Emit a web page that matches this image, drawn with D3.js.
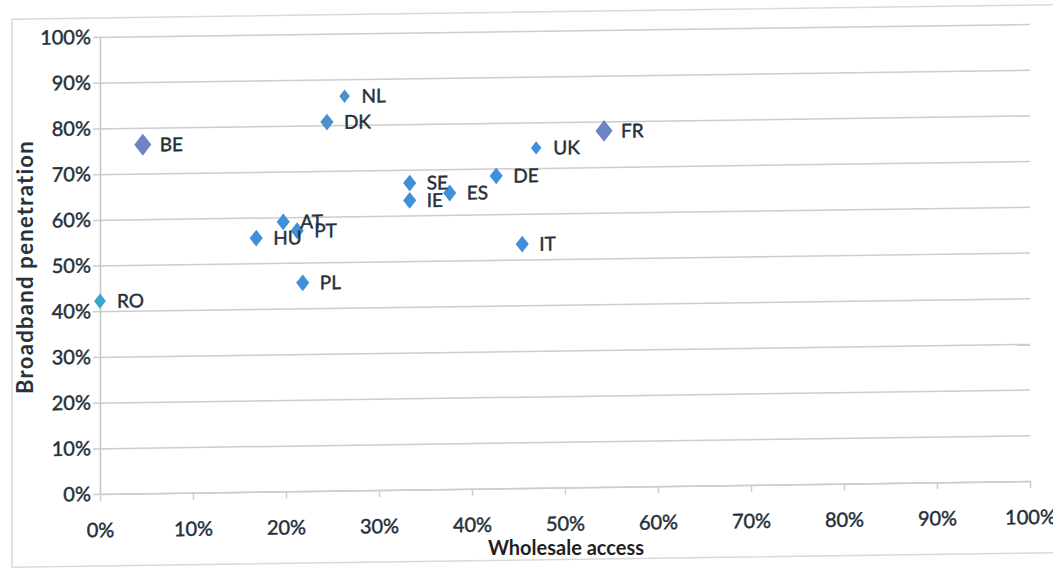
<!DOCTYPE html>
<html>
<head>
<meta charset="utf-8">
<script src="https://cdn.jsdelivr.net/npm/d3@7"></script>
<style>
  html, body { margin: 0; padding: 0; background: #ffffff; }
  svg { display: block; }
  text { font-family: Lato, "Open Sans", sans-serif; }
</style>
</head>
<body>
<svg id="chart" width="1053" height="571"></svg>
<script>
// ---- data ----
const countries   = ["BE", "NL", "DK", "FR", "UK", "DE", "SE", "IE", "ES", "AT", "PT", "HU", "PL", "IT", "RO"];
const wholesale   = [0.046, 0.263, 0.244, 0.542, 0.469, 0.426, 0.333, 0.333, 0.376, 0.197, 0.212, 0.168, 0.218, 0.454, 0.0];
const penetration = [0.763, 0.863, 0.807, 0.779, 0.744, 0.684, 0.671, 0.633, 0.648, 0.590, 0.570, 0.555, 0.456, 0.534, 0.422];
const xTickValues = [0, 0.1, 0.2, 0.3, 0.4, 0.5, 0.6, 0.7, 0.8, 0.9, 1.0];
const yTickValues = [0, 0.1, 0.2, 0.3, 0.4, 0.5, 0.6, 0.7, 0.8, 0.9, 1.0];
const xTitle = "Wholesale access";
const yTitle = "Broadband penetration";

// ---- styles ----
const markColor = { BE: "#6b84c4", FR: "#6b84c4", NL: "#4b8fcc", DK: "#4b8fcc", RO: "#3aa5cf" };
const defaultColor = "#3f8fdb";
const markScale = { BE: 1.3, FR: 1.3, NL: 0.8, UK: 0.8, RO: 0.9 };
const textColor = "#24303b";

const svg = d3.select("#chart");
const mLeft = 100, mRight = 1030, mTop = 37, mBottom = 494;

const x = d3.scaleLinear().domain([0, 1]).range([mLeft, mRight]);
const y = d3.scaleLinear().domain([0, 1]).range([mBottom, mTop]);

// scanned page is slightly skewed
const g = svg.append("g")
  .attr("transform", `translate(${mLeft},0) skewY(-0.8) translate(${-mLeft},0)`);

// chart border
g.append("rect")
  .attr("x", 12).attr("y", 18).attr("width", 1100).attr("height", 548)
  .attr("fill", "none").attr("stroke", "#dadada").attr("stroke-width", 1.5);

function heavy(sel, size) {
  sel.attr("fill", textColor)
     .attr("stroke", textColor).attr("stroke-width", 0.45)
     .style("font-size", size + "px");
}

// y axis with gridlines
const yAxis = g.append("g")
  .attr("transform", `translate(${mLeft},0)`)
  .call(d3.axisLeft(y).tickValues(yTickValues).tickFormat(d3.format(".0%"))
        .tickSizeInner(-(mRight - mLeft)).tickSizeOuter(0).tickPadding(9));
yAxis.select(".domain").attr("stroke", "#c4c4c4").attr("stroke-width", 1.5);
yAxis.selectAll(".tick line").attr("x1", -7).attr("stroke", "#cdcdcd").attr("stroke-width", 1.5);
yAxis.selectAll(".tick text").call(heavy, 20);

// x axis
const xAxis = g.append("g")
  .attr("transform", `translate(0,${mBottom})`)
  .call(d3.axisBottom(x).tickValues(xTickValues).tickFormat(d3.format(".0%"))
        .tickSizeInner(7).tickSizeOuter(0).tickPadding(22));
xAxis.select(".domain").attr("stroke", "#cdcdcd").attr("stroke-width", 1.5);
xAxis.selectAll(".tick line").attr("stroke", "#cdcdcd").attr("stroke-width", 1.5);
xAxis.selectAll(".tick text").call(heavy, 20);

// diamond symbol (a bit wider than d3's default diamond)
const wideDiamond = {
  draw(ctx, size) {
    const h = Math.sqrt(size / 1.56);
    const w = h * 0.78;
    ctx.moveTo(0, -h); ctx.lineTo(w, 0); ctx.lineTo(0, h); ctx.lineTo(-w, 0); ctx.closePath();
  }
};

const points = countries.map((c, i) => ({ c, wx: wholesale[i], py: penetration[i] }));

g.append("g").selectAll("path")
  .data(points).enter().append("path")
  .attr("transform", d => `translate(${x(d.wx)},${y(d.py)})`)
  .attr("d", d => d3.symbol().type(wideDiamond).size(110 * Math.pow(markScale[d.c] || 1, 2))())
  .attr("fill", d => markColor[d.c] || defaultColor);

g.append("g").selectAll("text")
  .data(points).enter().append("text")
  .attr("x", d => x(d.wx) + 17)
  .attr("y", d => y(d.py))
  .attr("dy", "0.36em")
  .call(heavy, 19)
  .text(d => d.c);

// axis titles
svg.append("text")
  .attr("x", 566).attr("y", 555)
  .attr("text-anchor", "middle")
  .attr("fill", "#1f1f1f")
  .style("font-size", "20px").style("font-weight", "bold")
  .text(xTitle);

svg.append("text")
  .attr("transform", "translate(33,267) rotate(-90)")
  .attr("text-anchor", "middle")
  .attr("fill", "#28323d")
  .style("font-size", "22px").style("font-weight", "bold")
  .style("letter-spacing", "1.3px")
  .text(yTitle);
</script>
</body>
</html>
